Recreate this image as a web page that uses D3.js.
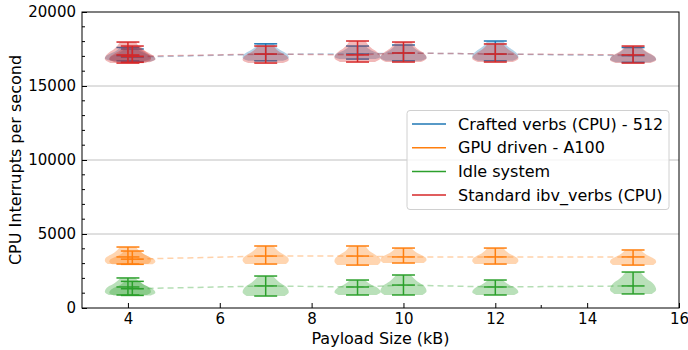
<!DOCTYPE html>
<html><head><meta charset="utf-8">
<script src="https://cdn.jsdelivr.net/npm/d3@7"></script>
<style>body{margin:0;background:#fff}svg{display:block;font-family:"DejaVu Sans",sans-serif}</style>
</head><body><svg id="c" width="688" height="350"></svg>
<script>
// ---- data ----
const payloadKB = [4, 4.096, 7, 9, 10, 12, 15];
const seriesNames = ["Crafted verbs (CPU) - 512", "GPU driven - A100", "Idle system", "Standard ibv_verbs (CPU)"];
const seriesColors = ["#1f77b4", "#ff7f0e", "#2ca02c", "#d62728"];

const craftedMax    = [17600, 17500, 17850, 17700, 17770, 18040, 17600];
const craftedMedian = [17050, 16950, 17150, 17160, 17230, 17160, 17050];
const craftedMin    = [16700, 16650, 16700, 16820, 16700, 16700, 16600];

const gpuMax    = [4120, 3850, 4190, 4190, 4050, 4050, 3920];
const gpuMedian = [3450, 3300, 3510, 3510, 3450, 3450, 3450];
const gpuMin    = [2970, 2950, 2970, 2900, 3040, 2970, 2900];

const idleMax    = [2030, 1800, 2160, 1890, 2230, 1890, 2430];
const idleMedian = [1420, 1300, 1490, 1420, 1550, 1420, 1490];
const idleMin    = [880, 850, 810, 880, 880, 880, 950];

const standardMax    = [17970, 17700, 17700, 18040, 17970, 17840, 17700];
const standardMedian = [17100, 17000, 17160, 17100, 17230, 17160, 17100];
const standardMin    = [16550, 16600, 16550, 16620, 16620, 16620, 16550];

// relative violin width from min (first) to max (last)
const craftedProfile  = [0.75, 1.0, 0.97, 0.82, 0.6, 0.45, 0.35];
const gpuProfile      = [0.88, 1.0, 0.98, 0.82, 0.6, 0.45, 0.35];
const idleProfile     = [0.82, 1.0, 0.97, 0.85, 0.62, 0.45, 0.32];
const standardProfile = [0.75, 1.0, 0.97, 0.82, 0.6, 0.45, 0.35];

const xTicks = [4, 6, 8, 10, 12, 14, 16];
const yTicks = [0, 5000, 10000, 15000, 20000];

const series = [
  {mx: craftedMax, md: craftedMedian, mn: craftedMin, prof: craftedProfile},
  {mx: gpuMax, md: gpuMedian, mn: gpuMin, prof: gpuProfile},
  {mx: idleMax, md: idleMedian, mn: idleMin, prof: idleProfile},
  {mx: standardMax, md: standardMedian, mn: standardMin, prof: standardProfile}
];

// ---- layout ----
const W = 688, H = 350;
const m = {l: 82, r: 9, t: 12, b: 42};
const svg = d3.select("#c");
const x = d3.scaleLinear().domain([3, 16]).range([m.l, W - m.r]);
const y = d3.scaleLinear().domain([0, 20000]).range([H - m.b, m.t]);

// grid
svg.append("g").selectAll("line").data(yTicks.slice(1, -1)).join("line")
  .attr("x1", m.l).attr("x2", W - m.r)
  .attr("y1", d => y(d)).attr("y2", d => y(d))
  .attr("stroke", "#b0b0b0").attr("stroke-width", 0.8);

const violinHalf = 0.5; // data units
const capHalf = 0.25;

series.forEach((s, si) => {
  const col = seriesColors[si];
  const g = svg.append("g");
  payloadKB.forEach((px, i) => {
    const n = s.prof.length;
    const pts = s.prof.map((w, k) => ({v: s.mn[i] + (s.mx[i] - s.mn[i]) * k / (n - 1), w}));
    const area = d3.area().curve(d3.curveCatmullRom)
      .y(d => y(d.v))
      .x0(d => x(px - violinHalf * d.w))
      .x1(d => x(px + violinHalf * d.w));
    g.append("path").attr("d", area(pts)).attr("fill", col).attr("fill-opacity", 0.33).attr("stroke", "none");
  });
  payloadKB.forEach((px, i) => {
    [s.mx[i], s.md[i], s.mn[i]].forEach(v => {
      g.append("line").attr("x1", x(px - capHalf)).attr("x2", x(px + capHalf))
        .attr("y1", y(v)).attr("y2", y(v)).attr("stroke", col).attr("stroke-width", 1.5);
    });
    g.append("line").attr("x1", x(px)).attr("x2", x(px))
      .attr("y1", y(s.mx[i])).attr("y2", y(s.mn[i])).attr("stroke", col).attr("stroke-width", 1.5);
  });
  const line = d3.line().x((d, i) => x(payloadKB[i])).y(d => y(d));
  g.append("path").attr("d", line(s.md)).attr("fill", "none").attr("stroke", col)
    .attr("stroke-width", 1.5).attr("stroke-opacity", 0.35).attr("stroke-dasharray", "6,4");
});

// frame
svg.append("rect").attr("x", m.l).attr("y", m.t).attr("width", W - m.l - m.r).attr("height", H - m.t - m.b)
  .attr("fill", "none").attr("stroke", "#000").attr("stroke-width", 1);

// axes (ticks inward)
const xAxis = d3.axisBottom(x).tickValues(xTicks).tickSizeInner(-5).tickSizeOuter(0).tickPadding(5);
const gx = svg.append("g").attr("transform", `translate(0,${H - m.b})`).call(xAxis);
gx.select(".domain").remove();
gx.selectAll("text").attr("font-size", 15).attr("font-family", "DejaVu Sans").attr("fill", "#000");
gx.selectAll(".tick line").attr("stroke", "#000");
svg.append("line").attr("x1", x(13)).attr("x2", x(13)).attr("y1", y(0)).attr("y2", y(0) - 3).attr("stroke", "#000");

const yMinor = d3.range(0, 20001, 1000).filter(v => v % 5000 !== 0);
svg.append("g").selectAll("line").data(yMinor).join("line")
  .attr("x1", m.l).attr("x2", m.l + 3).attr("y1", d => y(d)).attr("y2", d => y(d)).attr("stroke", "#000");
const yAxis = d3.axisLeft(y).tickValues(yTicks).tickFormat(d3.format("d")).tickSizeInner(-5).tickSizeOuter(0).tickPadding(6);
const gy = svg.append("g").attr("transform", `translate(${m.l},0)`).call(yAxis);
gy.select(".domain").remove();
gy.selectAll("text").attr("font-size", 15).attr("font-family", "DejaVu Sans").attr("fill", "#000");
gy.selectAll(".tick line").attr("stroke", "#000");

// labels
svg.append("text").attr("x", (m.l + W - m.r) / 2).attr("y", 344).attr("text-anchor", "middle")
  .attr("font-size", 16).text("Payload Size (kB)");
svg.append("text").attr("transform", `translate(21,${(m.t + H - m.b) / 2}) rotate(-90)`)
  .attr("text-anchor", "middle").attr("font-size", 16).text("CPU Interrupts per second");

// legend
const lg = svg.append("g");
lg.append("rect").attr("x", 407).attr("y", 110.5).attr("width", 262).attr("height", 99).attr("rx", 3)
  .attr("fill", "#fff").attr("fill-opacity", 0.8).attr("stroke", "#d0d0d0").attr("stroke-width", 1);
seriesNames.forEach((name, i) => {
  const cy = 124 + i * 23.7;
  lg.append("line").attr("x1", 412).attr("x2", 446).attr("y1", cy).attr("y2", cy)
    .attr("stroke", seriesColors[i]).attr("stroke-width", 1.5);
  lg.append("text").attr("x", 458).attr("y", cy).attr("dy", "0.36em").attr("font-size", 16).text(name);
});
</script></body></html>
